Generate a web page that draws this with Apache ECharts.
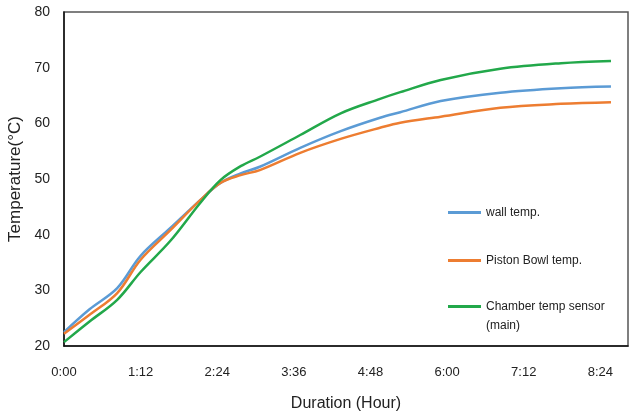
<!DOCTYPE html>
<html>
<head>
<meta charset="utf-8">
<script src="https://cdn.jsdelivr.net/npm/echarts@6/dist/echarts.min.js"></script>
<style>
  html, body { margin: 0; padding: 0; background: #fff; }
  #chart { width: 630px; height: 415px; }
</style>
</head>
<body>
<div id="chart"></div>
<script>
// elapsed minutes
var times = [0, 24, 50, 72, 100, 128, 147, 166, 184, 222, 260, 297, 316, 354, 410, 467, 514];
var wallTemp = [22.5, 26.6, 30.4, 36.2, 41.2, 46.2, 49.3, 51.0, 52.2, 55.6, 58.6, 61.0, 62.0, 64.0, 65.5, 66.3, 66.6];
var pistonTemp = [22.2, 25.6, 29.5, 35.5, 40.8, 46.2, 49.3, 50.7, 51.6, 54.7, 57.2, 59.2, 60.1, 61.2, 62.8, 63.5, 63.8];
var chamberTemp = [20.7, 24.4, 28.3, 33.3, 38.9, 45.7, 49.8, 52.3, 54.0, 57.9, 61.8, 64.4, 65.6, 67.8, 69.8, 70.8, 71.2];
var seriesNames = ["wall temp.", "Piston Bowl temp.", "Chamber temp sensor\n(main)"];
var colors = ["#5B9BD5", "#ED7D31", "#22A84A"];

function pairs(vals) {
  return vals.map(function (v, i) { return [times[i], v]; });
}
function hm(min) {
  var h = Math.floor(min / 60), m = Math.round(min % 60);
  return h + ":" + (m < 10 ? "0" + m : m);
}

var font = "Liberation Sans";
var chart = echarts.init(document.getElementById("chart"));
var legendText = { fontFamily: font, fontSize: 12, color: "#222", lineHeight: 19 };

chart.setOption({
  animation: false,
  color: colors,
  grid: {
    left: 64, right: 2, top: 12, bottom: 69,
    outerBoundsMode: "none",
    show: true, borderColor: "#555", borderWidth: 1.5
  },
  legend: [
    {
      data: seriesNames.slice(0, 2),
      orient: "vertical", left: 443, top: 198,
      icon: "rect", itemWidth: 33, itemHeight: 3, itemGap: 29,
      textStyle: legendText
    },
    {
      // blank first line keeps the icon level with "Chamber temp sensor"
      data: seriesNames.slice(2),
      orient: "vertical", left: 443, top: 273,
      icon: "rect", itemWidth: 33, itemHeight: 3,
      formatter: function (n) { return " \n" + n; },
      textStyle: legendText
    }
  ],
  xAxis: {
    type: "value", min: 0, max: 530, interval: 72,
    name: "Duration (Hour)", nameLocation: "middle", nameGap: 50,
    nameTextStyle: { fontFamily: font, fontSize: 16, color: "#222" },
    axisLine: { lineStyle: { color: "#111", width: 1.5 } },
    axisTick: { show: false },
    splitLine: { show: false },
    axisLabel: {
      fontFamily: font, fontSize: 13, color: "#222", margin: 20,
      showMaxLabel: false, formatter: hm
    }
  },
  yAxis: {
    type: "value", min: 20, max: 80, interval: 10,
    name: "Temperature(°C)", nameLocation: "middle", nameGap: 36,
    nameTextStyle: { fontFamily: font, fontSize: 17, color: "#222" },
    axisLine: { show: true, lineStyle: { color: "#111", width: 1.5 } },
    axisTick: { show: false },
    splitLine: { show: false },
    axisLabel: { fontFamily: font, fontSize: 14, color: "#222", margin: 14 }
  },
  series: [
    { name: seriesNames[0], type: "line", data: pairs(wallTemp), smooth: 0.35, showSymbol: false, lineStyle: { width: 2.5 } },
    { name: seriesNames[1], type: "line", data: pairs(pistonTemp), smooth: 0.35, showSymbol: false, lineStyle: { width: 2.5 } },
    { name: seriesNames[2], type: "line", data: pairs(chamberTemp), smooth: 0.35, showSymbol: false, lineStyle: { width: 2.5 } }
  ]
});
</script>
</body>
</html>
